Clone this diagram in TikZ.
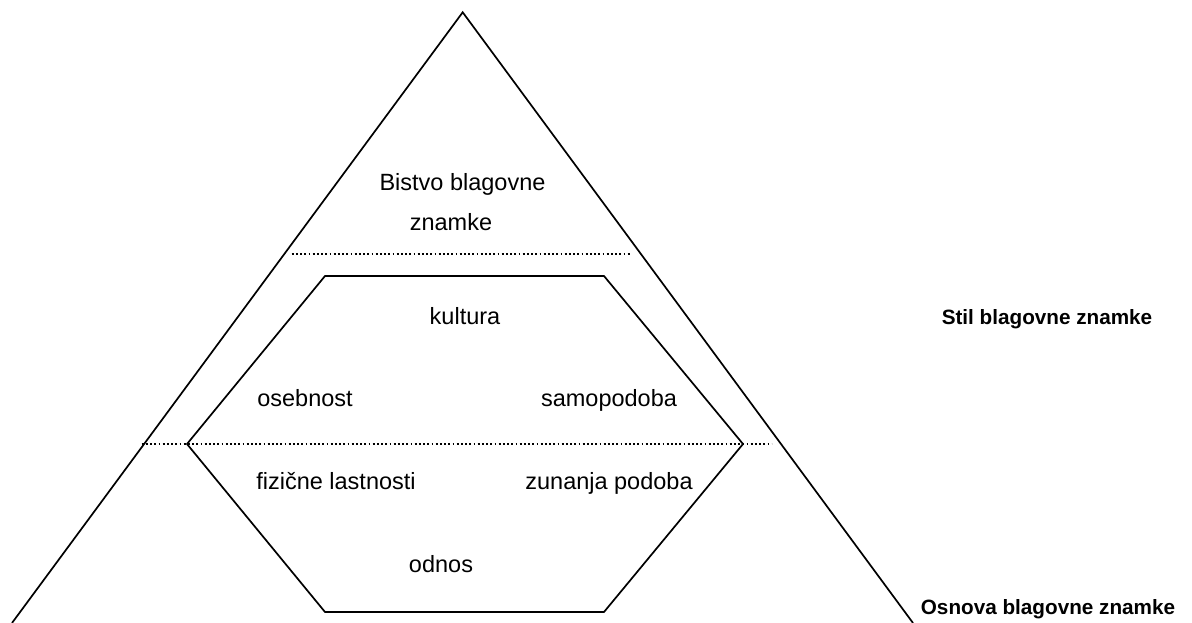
\documentclass[tikz,border=0pt]{standalone}
\usepackage{fontspec}
\setmainfont{Liberation Sans}
\begin{document}
\begin{tikzpicture}[x=1pt,y=-1pt,
  outline/.style={draw=black,line width=1.7pt,line join=miter},
  divider/.style={draw=black,line width=1.6pt,dash pattern=on 1.8pt off 2.4pt},
  lbl/.style={anchor=base,inner sep=0pt,font=\fontsize{23.5}{28}\selectfont},
  side/.style={anchor=base,inner sep=0pt,font=\fontsize{20.7}{25}\selectfont\bfseries}]
\useasboundingbox (0,0) rectangle (1192,623);
% pyramid
\coordinate (apex) at (462.7,12.3);
\coordinate (bl) at (12,623);
\coordinate (br) at (913,623);
\draw[outline] (bl) -- (apex) -- (br);
% hexagon
\draw[outline] (325,276) -- (604,276) -- (743,444) -- (604,612) -- (325,612) -- (187,444) -- cycle;
% dotted dividers
\coordinate (u1) at (291.7,254);
\coordinate (u2) at (630,254);
\coordinate (m1) at (141.7,444);
\coordinate (m2) at (771.7,444);
\draw[divider] (u1) -- (u2);
\draw[divider] (m1) -- (m2);
% labels
\node[lbl] (bistvo) at (462.5,190) {Bistvo blagovne};
\node[lbl] (znamke) at (451,230) {znamke};
\node[lbl] (kultura) at (465,324) {kultura};
\node[lbl] (osebnost) at (305,406) {osebnost};
\node[lbl] (samopodoba) at (609,406) {samopodoba};
\node[lbl] (fizicne) at (336,489) {fizične lastnosti};
\node[lbl] (zunanja) at (609,489) {zunanja podoba};
\node[lbl] (odnos) at (441,572) {odnos};
\node[side] (stil) at (1047,324) {Stil blagovne znamke};
\node[side] (osnova) at (1048,614) {Osnova blagovne znamke};
\end{tikzpicture}
\end{document}
